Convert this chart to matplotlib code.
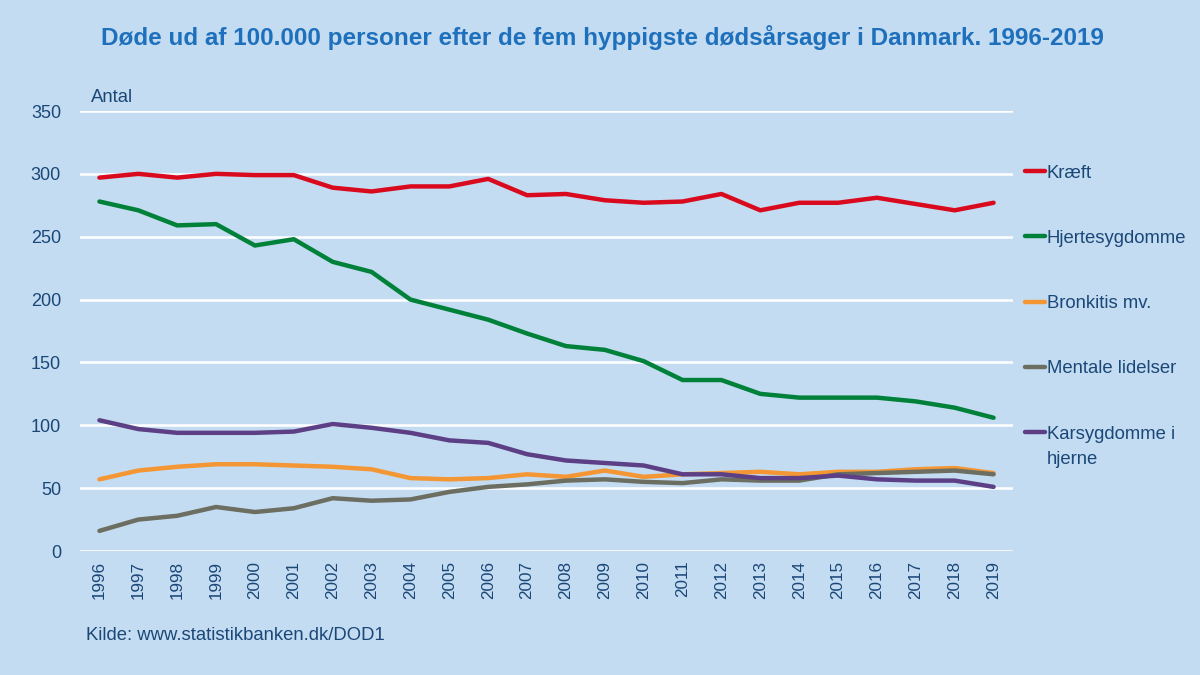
import matplotlib
matplotlib.use("Agg")
from matplotlib import pyplot as plt
from matplotlib.lines import Line2D
import numpy as np

plt.rcParams["font.family"] = ["Liberation Sans", "DejaVu Sans"]

years = np.arange(1996, 2020)
kraeft = [297, 300, 297, 300, 299, 299, 289, 286, 290, 290, 296, 283,
          284, 279, 277, 278, 284, 271, 277, 277, 281, 276, 271, 277]
hjerte = [278, 271, 259, 260, 243, 248, 230, 222, 200, 192, 184, 173,
          163, 160, 151, 136, 136, 125, 122, 122, 122, 119, 114, 106]
bronkitis = [57, 64, 67, 69, 69, 68, 67, 65, 58, 57, 58, 61,
             59, 64, 59, 61, 62, 63, 61, 63, 63, 65, 66, 62]
mentale = [16, 25, 28, 35, 31, 34, 42, 40, 41, 47, 51, 53,
           56, 57, 55, 54, 57, 56, 56, 61, 62, 63, 64, 61]
kar = [104, 97, 94, 94, 94, 95, 101, 98, 94, 88, 86, 77,
       72, 70, 68, 61, 61, 58, 58, 60, 57, 56, 56, 51]

names = ["Kræft", "Hjertesygdomme", "Bronkitis mv.", "Mentale lidelser",
         "Karsygdomme i\nhjerne"]
series = [kraeft, hjerte, bronkitis, mentale, kar]
colors = ["#DA0A1E", "#00813A", "#F39633", "#6B6E60", "#5C3F85"]

bg = "#C3DCF1"
navy = "#1B4778"

fig = plt.figure(figsize=(12, 6.75), dpi=100, facecolor=bg)
ax = fig.add_axes([80 / 1200, 1 - 551 / 675, 933 / 1200, 440 / 675])
ax.set_facecolor(bg)

for vals, c in zip(series, colors):
    ax.plot(years, vals, color=c, lw=3.2, solid_capstyle="round", zorder=3)

ax.set_xlim(1995.5, 2019.5)
ax.set_ylim(0, 350)
ax.set_yticks(np.arange(0, 351, 50))
ax.set_xticks(years)
ax.set_xticklabels([str(y) for y in years], rotation=90)
ax.grid(axis="y", color="white", lw=1.8, zorder=1)
ax.set_axisbelow(True)
for s in ax.spines.values():
    s.set_visible(False)
ax.tick_params(axis="both", length=0, colors=navy)
ax.tick_params(axis="y", pad=13.7, labelsize=13)
ax.tick_params(axis="x", pad=7, labelsize=12.3)

# legend on the right, one entry per line
for i, (name, c) in enumerate(zip(names, colors)):
    y = 1 - (171 + i * 65.3) / 675
    fig.add_artist(Line2D([1025 / 1200, 1045 / 1200], [y, y], color=c, lw=3.2,
                          solid_capstyle="round", transform=fig.transFigure))
    for k, part in enumerate(name.split("\n")):
        fig.text(1047 / 1200, y - (6.5 + 25 * k) / 675, part, ha="left",
                 va="baseline", fontsize=13.3, color=navy)

fig.text(0.502, 1 - 38 / 675,
         "Døde ud af 100.000 personer efter de fem hyppigste dødsårsager i Danmark. 1996-2019",
         ha="center", va="center", fontsize=17.5, fontweight="bold", color="#1F70BC")
fig.text(91 / 1200, 1 - 97 / 675, "Antal", ha="left", va="center", fontsize=13.3, color=navy)
fig.text(86 / 1200, 1 - 636 / 675, "Kilde: www.statistikbanken.dk/DOD1",
         ha="left", va="center", fontsize=13.3, color=navy)

fig.savefig("out.png", dpi=100, facecolor=bg)
